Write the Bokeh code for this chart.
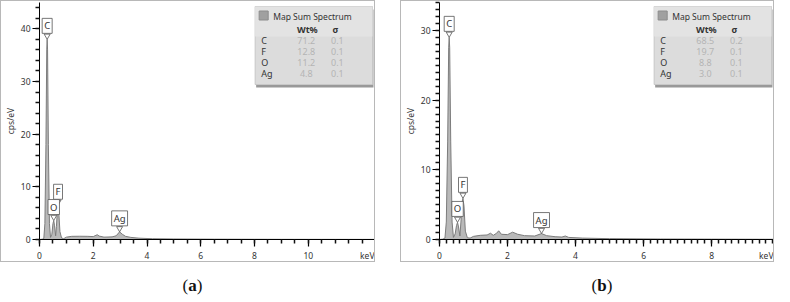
import numpy as np
from bokeh.plotting import figure
from bokeh.models import Label, Range1d, FixedTicker, Div
from bokeh.layouts import row, column
from bokeh.embed import file_html
from bokeh.resources import INLINE

# ---------------- data ----------------
# panel (a): spectrum points (keV, cps/eV)
E_A = [0.00, 0.10, 0.16, 0.20, 0.24, 0.27, 0.285, 0.30, 0.33, 0.37, 0.41,
       0.46, 0.50, 0.53, 0.56, 0.60, 0.63, 0.67, 0.69, 0.72, 0.76, 0.82,
       0.90, 1.00, 1.20, 1.50, 1.80, 2.00, 2.10, 2.15, 2.22, 2.40, 2.70,
       2.85, 2.98, 3.08, 3.20, 3.40, 3.70, 4.20, 5.00, 6.50, 9.00, 12.5]
CPS_A = [0.00, 0.05, 0.20, 3.0, 18.0, 36.0, 38.0, 36.0, 18.0, 3.0, 0.4,
         1.0, 3.0, 3.6, 2.6, 0.7, 2.5, 6.0, 6.5, 5.0, 1.5, 0.3,
         0.15, 0.45, 0.60, 0.62, 0.60, 0.55, 0.80, 0.90, 0.65, 0.45, 0.50,
         0.70, 1.45, 1.00, 0.60, 0.40, 0.25, 0.15, 0.10, 0.06, 0.03, 0.02]

# panel (b)
E_B = [0.00, 0.10, 0.16, 0.20, 0.24, 0.27, 0.285, 0.30, 0.33, 0.37, 0.41,
       0.46, 0.50, 0.53, 0.56, 0.60, 0.63, 0.67, 0.69, 0.72, 0.76, 0.82,
       0.90, 1.00, 1.20, 1.40, 1.50, 1.58, 1.68, 1.74, 1.82, 2.00, 2.15,
       2.30, 2.50, 2.80, 3.00, 3.15, 3.40, 3.60, 3.70, 3.80, 4.20, 5.00,
       6.50, 8.00, 9.85]
CPS_B = [0.00, 0.05, 0.20, 2.5, 14.0, 27.5, 29.0, 27.5, 14.0, 2.5, 0.3,
         0.8, 2.0, 2.45, 1.8, 0.5, 2.5, 5.5, 5.9, 4.8, 1.2, 0.25,
         0.20, 0.45, 0.60, 0.65, 0.90, 0.60, 0.90, 1.25, 0.75, 0.70, 1.05,
         0.75, 0.55, 0.50, 0.85, 0.55, 0.40, 0.35, 0.50, 0.30, 0.20, 0.12,
         0.07, 0.05, 0.03]

PEAK_NAMES = ["C", "O", "F", "Ag"]
PEAK_E_A = [0.285, 0.53, 0.69, 2.98]
PEAK_H_A = [38.0, 3.6, 6.5, 1.45]
PEAK_E_B = [0.285, 0.53, 0.69, 3.00]
PEAK_H_B = [29.0, 2.45, 5.9, 0.85]

LEGEND_TITLE = "Map Sum Spectrum"
ELEMENTS = ["C", "F", "O", "Ag"]
WT_A = ["71.2", "12.8", "11.2", "4.8"]
SIG_A = ["0.1", "0.1", "0.1", "0.1"]
WT_B = ["68.5", "19.7", "8.8", "3.0"]
SIG_B = ["0.2", "0.1", "0.1", "0.1"]

XMAX_A, YMAX_A = 12.5, 45
XMAX_B, YMAX_B = 9.85, 34
X_TICKS_A = [0, 2, 4, 6, 8, 10]
X_TICKS_B = [0, 2, 4, 6, 8]
Y_TICKS_A = [0, 10, 20, 30, 40]
Y_TICKS_B = [0, 10, 20, 30]
X_MINOR_STEP_A, X_MINOR_STEP_B = 0.5, 0.2
Y_MINOR_STEP_A, Y_MINOR_STEP_B = 2, 1
Y_LABEL = "cps/eV"
X_UNIT = "keV"
CAPTIONS = ["a", "b"]

FONT = "Noto Sans"
H = 262
ML, MR, MT, MB = 37, 1, 1, 22


def make_panel(width, xmax, ymax, xticks, yticks, xstep, ystep, energy, cps,
               peak_e, peak_h, wt, sig):
    p = figure(width=width, height=H, x_range=Range1d(0, xmax),
               y_range=Range1d(0, ymax), output_backend="svg",
               toolbar_location=None, min_border_left=ML, min_border_right=MR,
               min_border_top=MT, min_border_bottom=MB,
               background_fill_color="white", border_fill_color="white",
               outline_line_color=None,
               styles={"border": "1px solid #b8b8b8", "box-sizing": "border-box"})
    p.grid.visible = False
    fw = width - ML - MR - 2
    fh = H - MT - MB - 2
    dx = xmax / fw
    dy = ymax / fh

    # spectrum
    p.varea(x=energy, y1=[0] * len(energy), y2=cps, fill_color="#b9b9b9")
    p.line(x=energy, y=cps, line_color="#7c7c7c", line_width=1)

    # axes
    for ax in (p.xaxis[0], p.yaxis[0]):
        ax.axis_line_color = "black"
        ax.major_tick_line_color = "black"
        ax.minor_tick_line_color = "#111111"
        ax.minor_tick_line_width = 1.5
        ax.major_tick_line_width = 1.2
        ax.major_tick_out = 7
        ax.major_tick_in = 0
        ax.minor_tick_out = 4
        ax.minor_tick_in = 0
        ax.major_label_text_font = FONT
        ax.major_label_text_font_size = "8.5px"
        ax.major_label_text_color = "#333333"
    xa = p.xaxis[0]
    xminor = [float(v) for v in np.arange(0, xmax + 1e-6, xstep)]
    xa.ticker = FixedTicker(ticks=list(xticks) + [xmax], minor_ticks=xminor)
    xa.major_label_overrides = {xmax: X_UNIT}
    xa.major_label_standoff = 3

    ya = p.yaxis[0]
    yminor = [float(v) for v in np.arange(0, ymax + 1e-6, ystep)]
    ya.ticker = FixedTicker(ticks=yticks, minor_ticks=yminor)
    ya.major_label_standoff = 2
    ya.axis_label = Y_LABEL
    ya.axis_label_text_font = FONT
    ya.axis_label_text_font_size = "8.5px"
    ya.axis_label_text_font_style = "normal"
    ya.axis_label_text_color = "#333333"
    ya.axis_label_standoff = 2

    # peak callouts
    tri_y = [h + 3.5 * dy for h in peak_h]
    p.scatter(x=peak_e, y=tri_y, marker="inverted_triangle", size=6,
              fill_color="white", line_color="#555555", line_width=0.8)
    for name, e, h in zip(PEAK_NAMES, peak_e, peak_h):
        p.add_layout(Label(x=e, y=h, text=name, text_align="center",
                           text_baseline="bottom", y_offset=6,
                           text_font=FONT, text_font_size="9.5px",
                           text_color="#333333", padding=(2, 1),
                           background_fill_color="white",
                           border_line_color="#555555", border_line_width=0.8))

    # legend box
    bl, br = xmax - 120 * dx, xmax - 3 * dx
    bt, bb = ymax - 4 * dy, ymax - 82 * dy
    p.quad(left=bl + 1 * dx, right=br + 1 * dx, top=bt - 3 * dy,
           bottom=bb - 3 * dy, fill_color="#6e6e6e", fill_alpha=0.7,
           line_color=None)
    p.quad(left=bl, right=br, top=bt, bottom=bb, fill_color="#dcdcdc",
           line_color="#c8c8c8", line_width=1)
    p.quad(left=bl, right=br, top=bt, bottom=bt - 30 * dy, fill_color="#e3e3e3",
           line_color=None)
    p.quad(left=bl + 4 * dx, right=bl + 13 * dx, top=bt - 4.5 * dy,
           bottom=bt - 13.5 * dy, fill_color="#a0a0a0", line_color="#8c8c8c")

    def txt(ox, oy, s, color="#333333", bold=False, align="left", size="9px"):
        p.add_layout(Label(x=bl + ox * dx, y=bt - oy * dy, text=s,
                           text_align=align, text_baseline="middle",
                           text_font=FONT, text_font_size=size,
                           text_color=color,
                           text_font_style="bold" if bold else "normal"))

    txt(18, 9.5, LEGEND_TITLE, size="8.5px")
    txt(52, 22.5, "Wt%", bold=True, align="center")
    txt(80, 22.5, "σ", bold=True, align="center")
    for i, (el, w, s) in enumerate(zip(ELEMENTS, wt, sig)):
        oy = 33.5 + i * 11
        txt(6, oy, el)
        txt(51, oy, w, color="#b4b4b4", align="center")
        txt(82, oy, s, color="#b4b4b4", align="center")
    return p


pa = make_panel(375, XMAX_A, YMAX_A, X_TICKS_A, Y_TICKS_A, X_MINOR_STEP_A,
                Y_MINOR_STEP_A, E_A, CPS_A, PEAK_E_A, PEAK_H_A, WT_A, SIG_A)
pb = make_panel(374, XMAX_B, YMAX_B, X_TICKS_B, Y_TICKS_B, X_MINOR_STEP_B,
                Y_MINOR_STEP_B, E_B, CPS_B, PEAK_E_B, PEAK_H_B, WT_B, SIG_B)


def caption(letter, w):
    return Div(text=f"<div style='width:{w}px;text-align:center;padding-top:11px;"
                    f"line-height:16px'>(<b>{letter}</b>)</div>",
               width=w, height=24,
               styles={"font-family": "Liberation Serif", "font-size": "17px",
                       "color": "#111111"})


ca = caption(CAPTIONS[0], 375)
cb = caption(CAPTIONS[1], 374)

layout = column(row(pa, pb, spacing=25), row(ca, cb, spacing=25), spacing=0)

open("out.html", "w").write(file_html(layout, INLINE))
